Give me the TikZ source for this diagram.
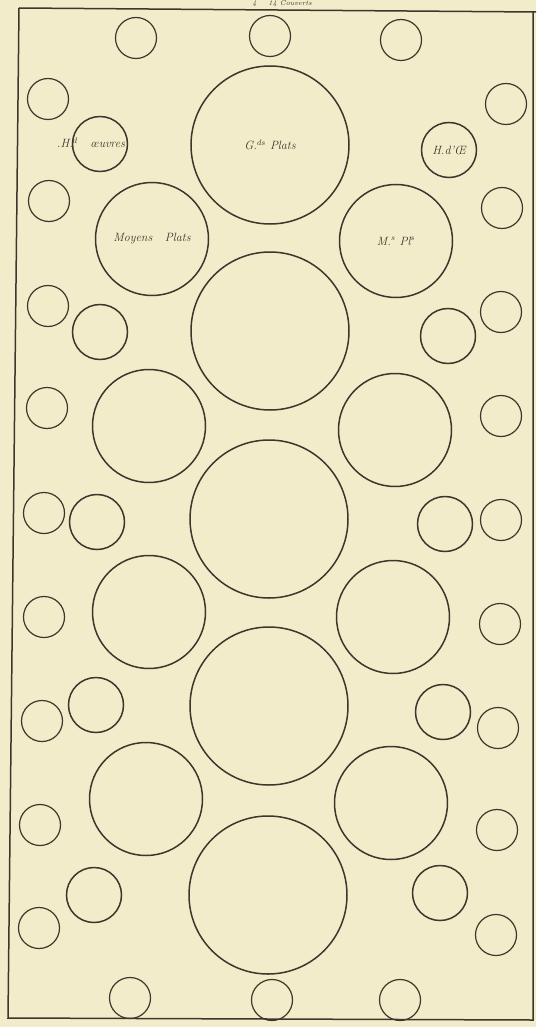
\documentclass[tikz,border=0pt]{standalone}
\usepackage{tikz}
\usetikzlibrary{positioning}
\usepackage{xcolor}
\definecolor{paper}{RGB}{243,236,203}
\definecolor{ink}{RGB}{58,56,44}

\begin{document}
\begin{tikzpicture}[
  x=1pt, y=-1pt,
  dish/.style={circle, draw=ink, line width=1.5pt, inner sep=0pt, align=center, text=ink, font=\fontsize{12}{14}\selectfont\itshape},
  grand/.style={dish, minimum size=158pt},
  moyen/.style={dish, minimum size=113pt},
  hors/.style={dish, minimum size=55pt},
  couvert/.style={dish, line width=1.2pt, minimum size=41pt},
  note/.style={text=ink, inner sep=0pt, font=\fontsize{12}{14}\selectfont\itshape},
]
  \useasboundingbox (0,0) rectangle (536,1027);
  \fill[paper] (0,0) rectangle (536,1027);

  % table edge
  \draw[ink, line width=1.5pt] (19,8) -- (536,12);
  \draw[ink, line width=1.5pt] (533,12) -- (533,1020) -- (8,1018) -- (19,8);
  \node[note, font=\fontsize{7}{8}\selectfont\itshape] (titre) at (282,3.5) {4 ~~ 14 Couverts};

  % grands plats
  \node[grand] (gp1) at (270,145) {G.$^{ds}$ Plats};
  \node[grand] (gp2) at (270,331) {};
  \node[grand] (gp3) at (269,519) {};
  \node[grand] (gp4) at (269,706) {};
  \node[grand] (gp5) at (268,895) {};

  % moyens plats
  \node[moyen] (mg1) at (152,239) {Moyens ~ Plats};
  \node[moyen] (mg2) at (149,426) {};
  \node[moyen] (mg3) at (149,612) {};
  \node[moyen] (mg4) at (146,799) {};
  \node[moyen] (md1) at (396,241) {M.$^s$ Pl$^s$};
  \node[moyen] (md2) at (395,430) {};
  \node[moyen] (md3) at (393,617) {};
  \node[moyen] (md4) at (391,803) {};

  % hors d'oeuvres
  \node[hors] (hg1) at (100,144) {};
  \node[note] (hg1txt) at (91,143) {.H.$^d$ ~ \oe uvres};
  \node[hors] (hg2) at (100,332) {};
  \node[hors] (hg3) at (97,522) {};
  \node[hors] (hg4) at (96,705) {};
  \node[hors] (hg5) at (94,895) {};
  \node[hors] (hd1) at (449,150) {H.d'\OE};
  \node[hors] (hd2) at (448,336) {};
  \node[hors] (hd3) at (445,524) {};
  \node[hors] (hd4) at (443,712) {};
  \node[hors] (hd5) at (440,893) {};

  % couverts
  \node[couvert] (ch1) at (136,38) {};
  \node[couvert] (ch2) at (270,36) {};
  \node[couvert] (ch3) at (401,40) {};
  \node[couvert] (cb1) at (130,998) {};
  \node[couvert] (cb2) at (272,1000) {};
  \node[couvert] (cb3) at (400,1000) {};
  \node[couvert] (cg1) at (48,99) {};
  \node[couvert] (cg2) at (49,201) {};
  \node[couvert] (cg3) at (48,306) {};
  \node[couvert] (cg4) at (47,408) {};
  \node[couvert] (cg5) at (44,513) {};
  \node[couvert] (cg6) at (44,617) {};
  \node[couvert] (cg7) at (42,721) {};
  \node[couvert] (cg8) at (40,825) {};
  \node[couvert] (cg9) at (39,928) {};
  \node[couvert] (cd1) at (506,104) {};
  \node[couvert] (cd2) at (502,208) {};
  \node[couvert] (cd3) at (501,312) {};
  \node[couvert] (cd4) at (501,416) {};
  \node[couvert] (cd5) at (501,520) {};
  \node[couvert] (cd6) at (500,624) {};
  \node[couvert] (cd7) at (498,728) {};
  \node[couvert] (cd8) at (497,830) {};
  \node[couvert] (cd9) at (496,935) {};
\end{tikzpicture}
\end{document}
